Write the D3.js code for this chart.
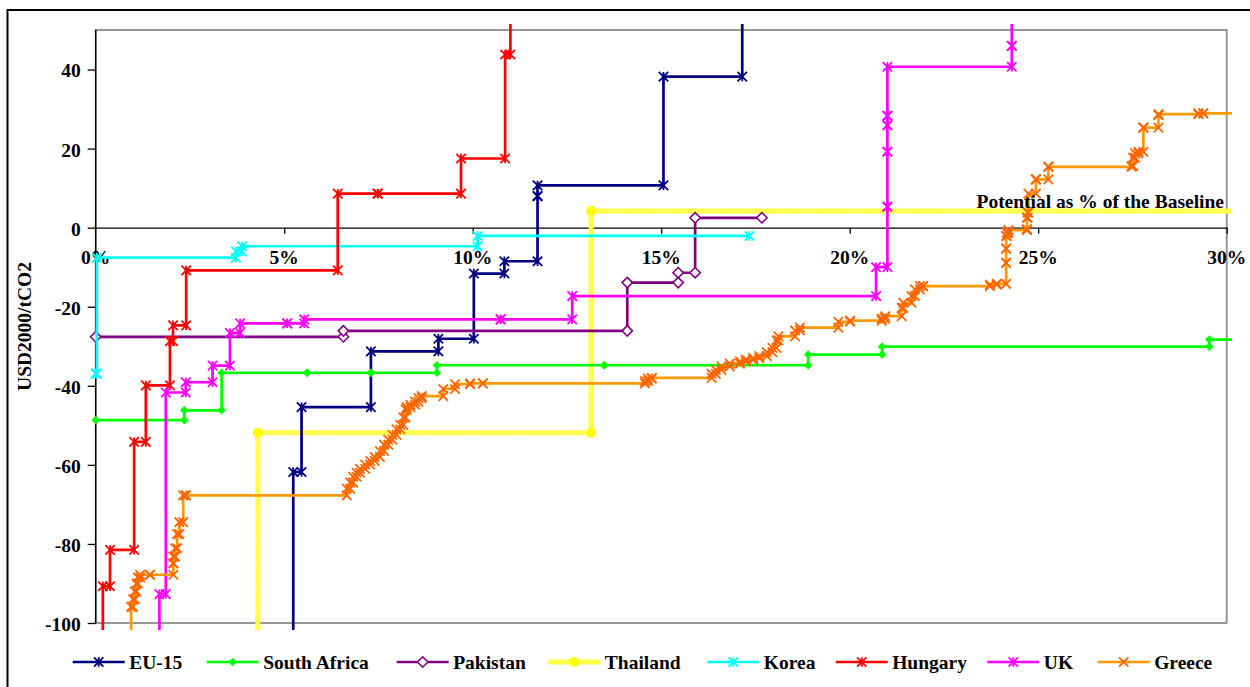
<!DOCTYPE html>
<html><head><meta charset="utf-8">
<script src="https://cdn.jsdelivr.net/npm/d3@7"></script>
<style>
html,body{margin:0;padding:0;background:#fff;}
svg{display:block;font-family:"Liberation Serif","Times New Roman",serif;font-weight:bold;}
</style></head><body>
<svg id="chart" width="1250" height="687"></svg>
<script>
// Each measure: [cumulative potential at its end (% of baseline), cost (USD2000/tCO2)].
// Every curve starts at 0 %; costs far outside the axis range are cut by the plot clip.
const euSteps = [[5.24,-150],[5.46,-61.8],[7.30,-45.4],[9.09,-31.3],[10.03,-28.1],[10.84,-11.6],[11.72,-8.5],[11.72,8.0],[15.06,10.7],[17.15,38.2],[18.00,150]];
const southAfricaSteps = [[2.35,-48.7],[3.34,-46.2],[5.61,-36.7],[7.30,-36.7],[9.05,-36.7],[13.49,-34.8],[18.90,-34.8],[20.86,-32.1],[29.54,-30.1],[31.00,-28.3]];
const pakistanSteps = [[6.57,-27.6],[14.10,-26.1],[15.45,-13.9],[15.90,-11.4],[17.67,2.5]];
const thailandSteps = [[4.30,-150],[13.14,-51.9],[31.00,4.2]];
const koreaSteps = [[0.03,-36.9],[3.72,-7.6],[3.88,-6.0],[10.13,-4.7],[17.34,-2.1]];
const hungarySteps = [[0.19,-150],[0.38,-90.7],[1.02,-81.5],[1.33,-54.2],[1.97,-39.9],[2.05,-28.7],[2.40,-24.7],[6.42,-10.8],[7.48,8.6],[9.69,8.6],[10.86,17.5],[11.00,43.8],[12.00,150]];
const ukSteps = [[1.69,-150],[1.86,-92.7],[2.39,-41.7],[3.10,-39.1],[3.56,-34.9],[3.83,-26.6],[5.08,-24.2],[5.53,-24.2],[10.74,-23.2],[12.64,-23.2],[20.70,-17.3],[21.00,-10.0],[21.00,5.3],[21.00,19.2],[21.00,25.9],[21.00,28.3],[24.30,40.7],[24.30,46.0],[25.00,150]];
const greeceSteps = [[0.94,-150],[0.99,-95.9],[1.04,-94.0],[1.08,-92.0],[1.12,-90.0],[1.18,-88.5],[1.44,-87.8],[2.06,-87.8],[2.06,-84.9],[2.11,-83.2],[2.16,-81.1],[2.22,-77.5],[2.32,-74.5],[2.39,-67.7],[6.66,-67.7],[6.75,-66.0],[6.83,-64.5],[6.92,-63.0],[7.01,-62.0],[7.15,-61.0],[7.28,-59.9],[7.40,-59.0],[7.54,-58.0],[7.65,-56.5],[7.76,-54.9],[7.87,-53.6],[7.98,-52.4],[8.08,-51.0],[8.16,-49.9],[8.22,-48.0],[8.25,-46.0],[8.35,-45.4],[8.47,-44.8],[8.56,-44.0],[8.65,-43.1],[9.22,-42.6],[9.53,-40.8],[9.93,-39.6],[10.27,-39.4],[14.57,-39.4],[14.65,-38.8],[14.75,-38.2],[16.34,-38.0],[16.45,-37.0],[16.60,-36.0],[16.82,-35.1],[17.09,-34.4],[17.25,-33.8],[17.44,-33.4],[17.60,-33.0],[17.80,-32.5],[17.95,-31.5],[18.06,-30.4],[18.11,-28.5],[18.55,-27.5],[18.68,-26.0],[19.70,-25.3],[20.01,-23.8],[20.85,-23.5],[20.94,-23.0],[21.38,-22.4],[21.42,-20.3],[21.64,-19.0],[21.73,-17.3],[21.86,-15.6],[21.95,-14.8],[23.72,-14.8],[23.90,-14.4],[24.15,-14.2],[24.15,-8.9],[24.15,-5.3],[24.17,-2.1],[24.21,-1.3],[24.70,-0.6],[24.70,-0.4],[24.72,2.5],[24.74,3.8],[24.94,8.6],[24.94,12.2],[25.27,12.2],[25.27,15.4],[27.48,15.4],[27.52,15.6],[27.57,17.7],[27.66,18.8],[27.79,19.2],[27.79,25.3],[28.19,25.3],[28.19,28.5],[29.25,28.7],[29.38,28.9],[31.00,28.9]];

const seriesNames = ["EU-15","South Africa","Pakistan","Thailand","Korea","Hungary","UK","Greece"];
const xTicks = [0,5,10,15,20,25,30];
const yTicks = [40,20,0,-20,-40,-60,-80,-100];

const series = [
  {name:"EU-15",        steps:euSteps,          line:"#000080", mark:"#000080", shape:"star"},
  {name:"South Africa", steps:southAfricaSteps, line:"#00FF00", mark:"#00FF00", shape:"diamond"},
  {name:"Pakistan",     steps:pakistanSteps,    line:"#800080", mark:"#800080", shape:"openDiamond"},
  {name:"Thailand",     steps:thailandSteps,    line:"#FFFF44", mark:"#FFFF00", shape:"circle", wide:true},
  {name:"Korea",        steps:koreaSteps,       line:"#00FFFF", mark:"#00FFFF", shape:"star"},
  {name:"Hungary",      steps:hungarySteps,     line:"#FF0000", mark:"#FF0000", shape:"star"},
  {name:"UK",           steps:ukSteps,          line:"#FF00FF", mark:"#FF00FF", shape:"star"},
  {name:"Greece",       steps:greeceSteps,      line:"#FF9900", mark:"#FF6600", shape:"times"}
];
const drawOrder = ["Thailand","EU-15","South Africa","Pakistan","Korea","Hungary","UK","Greece"];
// left edge of each legend entry's line sample
const legendX = [72.7, 206.7, 396.7, 548.3, 707.3, 835.7, 987.3, 1097.7];

// corner points of a step curve: each measure spans [previous end, its end] at its cost
function corners(steps){
  const pts = []; let x0 = 0;
  steps.forEach(([x1,c]) => { pts.push([x0,c],[x1,c]); x0 = x1; });
  return pts;
}

const svg = d3.select("#chart");
const fs = 19.5;

const defs = svg.append("defs");
const x = d3.scaleLinear().domain([0,30]).range([95.7,1226.7]);
const y = d3.scaleLinear().domain([-100,50]).range([623,30]);

defs.append("clipPath").attr("id","plotClip").append("rect")
  .attr("x",84).attr("y",24).attr("width",1232-84).attr("height",630-24);

// outer frame
svg.append("rect").attr("x",7.5).attr("y",10).attr("width",1300).attr("height",720)
  .attr("fill","none").attr("stroke","#000").attr("stroke-width",2);

// plot area border
svg.append("rect").attr("x",x(0)).attr("y",y(50)).attr("width",x(30)-x(0)).attr("height",y(-100)-y(50))
  .attr("fill","none").attr("stroke","#8c8c8c").attr("stroke-width",1.8);

// y axis
const yAxis = svg.append("g").attr("transform",`translate(${x(0)},0)`)
  .call(d3.axisLeft(y).tickValues(yTicks).tickSize(8).tickSizeOuter(0).tickPadding(7).tickFormat(d => String(d)));
yAxis.select(".domain").attr("stroke","#000").attr("stroke-width",1.4).attr("d",`M0,${y(50)}V${y(-100)}`);
yAxis.selectAll(".tick line").attr("stroke","#000").attr("stroke-width",1.3);
yAxis.selectAll(".tick text").attr("font-size",fs).attr("font-family","Liberation Serif, serif")
  .attr("font-weight","bold").attr("fill","#000").attr("dy","0.38em");

// x axis through cost = 0
const xAxis = svg.append("g").attr("transform",`translate(0,${y(0)})`)
  .call(d3.axisBottom(x).tickValues(xTicks.slice(1)).tickSize(6).tickSizeOuter(0).tickFormat(""));
xAxis.select(".domain").attr("stroke","#000").attr("stroke-width",1.4);
xAxis.selectAll(".tick line").attr("stroke","#000").attr("stroke-width",1.3);

svg.append("g").selectAll("text").data(xTicks).join("text")
  .attr("x",d => x(d)).attr("y",y(0)+36).attr("text-anchor","middle")
  .attr("font-size",fs).attr("fill","#000").text(d => d + "%");

svg.append("text").attr("transform",`translate(24,${(y(50)+y(-100))/2}) rotate(-90)`)
  .attr("text-anchor","middle").attr("dominant-baseline","central")
  .attr("font-size",fs).attr("fill","#000").text("USD2000/tCO2");

// marker shapes
function markerPath(shape){
  const r = 4.7;
  switch(shape){
    case "star": return `M${-r},${-r}L${r},${r}M${-r},${r}L${r},${-r}M0,${-r}L0,${r}`;
    case "times": return `M${-r},${-r}L${r},${r}M${-r},${r}L${r},${-r}`;
    case "diamond": return `M0,-4.3L4.3,0L0,4.3L-4.3,0Z`;
    case "openDiamond": return `M0,-5.2L5.2,0L0,5.2L-5.2,0Z`;
    case "circle": return d3.symbol(d3.symbolCircle, 78)();
  }
}
function styleMarker(sel, s){
  sel.attr("d", markerPath(s.shape));
  if (s.shape === "star" || s.shape === "times") sel.attr("fill","none").attr("stroke",s.mark).attr("stroke-width",1.8);
  else if (s.shape === "openDiamond") sel.attr("fill","#fff").attr("stroke",s.mark).attr("stroke-width",1.6);
  else sel.attr("fill",s.mark).attr("stroke","none");
}

const line = d3.line().x(d => x(d[0])).y(d => y(d[1]));
const plot = svg.append("g").attr("clip-path","url(#plotClip)");
drawOrder.forEach(name => {
  const s = series.find(d => d.name === name);
  const pts = corners(s.steps);
  const g = plot.append("g");
  g.append("path").attr("d", line(pts)).attr("fill","none").attr("stroke",s.line)
    .attr("stroke-width", s.wide ? 5 : 2.7).attr("stroke-linejoin","miter");
  if (s.wide) {
    // fine speckle texture along the wide line
    g.append("path").attr("d", line(pts)).attr("fill","none").attr("stroke","#FFFFB0")
      .attr("stroke-width",1).attr("stroke-dasharray","1,2");
  }
  g.selectAll("path.m").data(pts).join("path").attr("class","m")
    .attr("transform",d => `translate(${x(d[0])},${y(d[1])})`)
    .call(sel => styleMarker(sel, s));
});

svg.append("text").attr("x",1224).attr("y",208).attr("text-anchor","end")
  .attr("font-size",fs).attr("fill","#000").text("Potential as % of the Baseline");

// legend
const legend = svg.append("g");
const ly = 662;
seriesNames.forEach((name, i) => {
  const s = series.find(d => d.name === name);
  const lx = legendX[i];
  const g = legend.append("g");
  g.append("line").attr("x1",lx).attr("x2",lx+52).attr("y1",ly).attr("y2",ly)
    .attr("stroke",s.line).attr("stroke-width", s.wide ? 5 : 2.7);
  g.append("path").attr("transform",`translate(${lx+26},${ly})`).call(sel => styleMarker(sel, s));
  g.append("text").attr("x",lx+56.5).attr("y",ly+7).attr("font-size",fs).attr("fill","#000").text(name);
});
</script>
</body></html>
